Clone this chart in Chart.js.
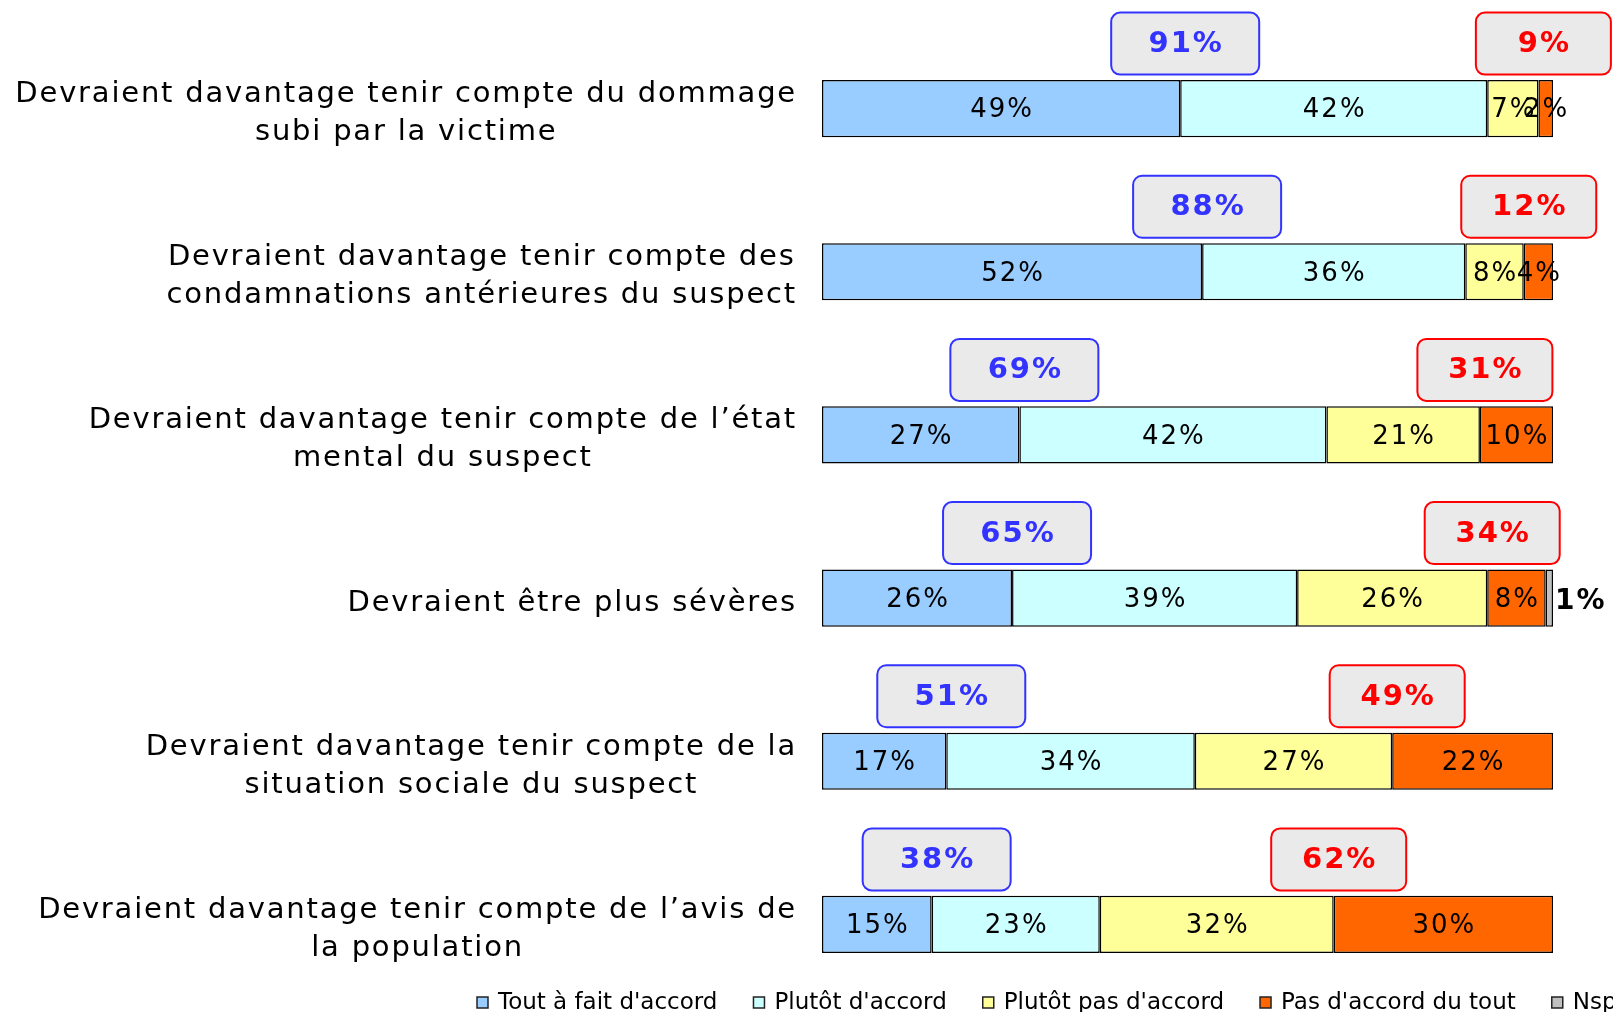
<!DOCTYPE html>
<html>
<head>
<meta charset="utf-8">
<script src="https://cdn.jsdelivr.net/npm/chart.js@4.4.1/dist/chart.umd.min.js"></script>
<style>
  html, body { margin:0; padding:0; background:#fff; overflow:hidden; }
  #wrap { width:1613px; height:1012px; }
</style>
</head>
<body>
<div id="wrap"><canvas id="c" width="1613" height="1012"></canvas></div>
<script>
// ─── Data ─────────────────────────────────────────────────────────────────────
const CATEGORIES = [
  ['Devraient davantage tenir compte du dommage', 'subi par la victime'],
  ['Devraient davantage tenir compte des', 'condamnations antérieures du suspect'],
  ['Devraient davantage tenir compte de l’état', 'mental du suspect'],
  ['Devraient être plus sévères'],
  ['Devraient davantage tenir compte de la', 'situation sociale du suspect'],
  ['Devraient davantage tenir compte de l’avis de', 'la population'],
];
const SERIES_NAMES = ["Tout à fait d'accord", "Plutôt d'accord", "Plutôt pas d'accord", "Pas d'accord du tout", "Nsp"];
const toutAFait   = [49, 52, 27, 26, 17, 15];
const plutot      = [42, 36, 42, 39, 34, 23];
const plutotPas   = [ 7,  8, 21, 26, 27, 32];
const pasDuTout   = [ 2,  4, 10,  8, 22, 30];
const nsp         = [ 0,  0,  0,  1,  0,  0];
const totalAccord    = [91, 88, 69, 65, 51, 38];
const totalDesaccord = [ 9, 12, 31, 34, 49, 62];

const COLORS = ['#99CCFF', '#CCFFFF', '#FFFF99', '#FF6600', '#C0C0C0'];
const FONT_FAMILY = '"DejaVu Sans", Verdana, sans-serif';

// ─── Overlay: segment labels, total boxes, category labels, legend ───────────
function roundRect(ctx, x, y, w, h, r) {
  ctx.beginPath();
  ctx.moveTo(x + r, y);
  ctx.arcTo(x + w, y, x + w, y + h, r);
  ctx.arcTo(x + w, y + h, x, y + h, r);
  ctx.arcTo(x, y + h, x, y, r);
  ctx.arcTo(x, y, x + w, y, r);
  ctx.closePath();
}

const overlay = {
  id: 'overlay',
  afterDatasetsDraw(chart) {
    const ctx = chart.ctx;
    const xs = chart.scales.x, ys = chart.scales.y;
    ctx.save();
    ctx.textBaseline = 'middle';

    // values inside the segments
    chart.data.datasets.forEach((ds, di) => {
      const meta = chart.getDatasetMeta(di);
      meta.data.forEach((bar, i) => {
        const v = ds.data[i];
        if (!v) return;
        ctx.fillStyle = '#000';
        if (di === 4) {
          ctx.font = 'bold 28px ' + FONT_FAMILY;
          ctx.letterSpacing = '2px';
          ctx.textAlign = 'left';
          ctx.fillText(v + '%', bar.x + 2, bar.y + 4);
        } else {
          ctx.font = '26px ' + FONT_FAMILY;
          ctx.letterSpacing = '2px';
          ctx.textAlign = 'center';
          ctx.fillText(v + '%', (bar.x + bar.base) / 2 + 1, bar.y + 2);
        }
      });
    });

    // total boxes above the bars
    const boxes = (i, val, xVal, w, stroke, txt) => {
      const cx = xs.getPixelForValue(xVal) + 5;
      const cy = ys.getPixelForValue(i) - 65;
      const h = 62;
      roundRect(ctx, cx - w / 2, cy - h / 2, w, h, 9);
      ctx.fillStyle = '#EAEAEA';
      ctx.fill();
      ctx.lineWidth = 2;
      ctx.strokeStyle = stroke;
      ctx.stroke();
      ctx.font = 'bold 29px ' + FONT_FAMILY;
      ctx.letterSpacing = '2px';
      ctx.textAlign = 'center';
      ctx.fillStyle = txt;
      ctx.fillText(val + '%', cx + 1, cy + 1);
    };
    CATEGORIES.forEach((_, i) => {
      boxes(i, totalAccord[i], toutAFait[i], 148, '#3333FF', '#3333FF');
      boxes(i, totalDesaccord[i], toutAFait[i] + plutot[i] + plutotPas[i], 135, '#FF0000', '#FF0000');
    });

    // category labels (right aligned block, centered lines)
    ctx.font = '29px ' + FONT_FAMILY;
    ctx.letterSpacing = '1.8px';
    ctx.fillStyle = '#000';
    ctx.textAlign = 'center';
    const rightEdge = 797;
    CATEGORIES.forEach((lines, i) => {
      const maxW = Math.max(...lines.map(l => ctx.measureText(l).width));
      const cx = rightEdge - maxW / 2;
      const cy = ys.getPixelForValue(i) + 5;
      const lh = 38;
      lines.forEach((l, k) => {
        ctx.fillText(l, cx, cy + (k - (lines.length - 1) / 2) * lh);
      });
    });

    // legend (runs off the right edge as in the original)
    ctx.font = '23px ' + FONT_FAMILY;
    ctx.letterSpacing = '0px';
    ctx.textAlign = 'left';
    let x = 477;
    const ly = 1003;
    SERIES_NAMES.forEach((name, k) => {
      ctx.fillStyle = COLORS[k];
      ctx.fillRect(x, ly - 6, 11, 11);
      ctx.lineWidth = 1.5;
      ctx.strokeStyle = '#222';
      ctx.strokeRect(x, ly - 6, 11, 11);
      ctx.fillStyle = '#000';
      ctx.fillText(name, x + 21, ly);
      x += 21 + ctx.measureText(name).width + 36;
    });
    ctx.restore();
  }
};

// ─── Chart ────────────────────────────────────────────────────────────────────
const seriesData = [toutAFait, plutot, plutotPas, pasDuTout, nsp];

new Chart(document.getElementById('c').getContext('2d'), {
  type: 'bar',
  data: {
    labels: CATEGORIES.map(l => l.join(' ')),
    datasets: seriesData.map((d, k) => ({
      label: SERIES_NAMES[k],
      data: d,
      backgroundColor: COLORS[k],
      borderColor: '#000',
      borderWidth: (c) => c.raw ? 1.5 : 0,
      borderSkipped: false,
      barPercentage: 0.35,
      categoryPercentage: 1,
    })),
  },
  options: {
    indexAxis: 'y',
    responsive: false,
    devicePixelRatio: 1,
    animation: false,
    layout: { padding: { left: 822, right: 60, top: 27, bottom: 6 } },
    plugins: { legend: { display: false }, tooltip: { enabled: false } },
    scales: {
      x: { stacked: true, min: 0, max: 100, display: false },
      y: { stacked: true, display: false },
    },
  },
  plugins: [overlay],
});
</script>
</body>
</html>
